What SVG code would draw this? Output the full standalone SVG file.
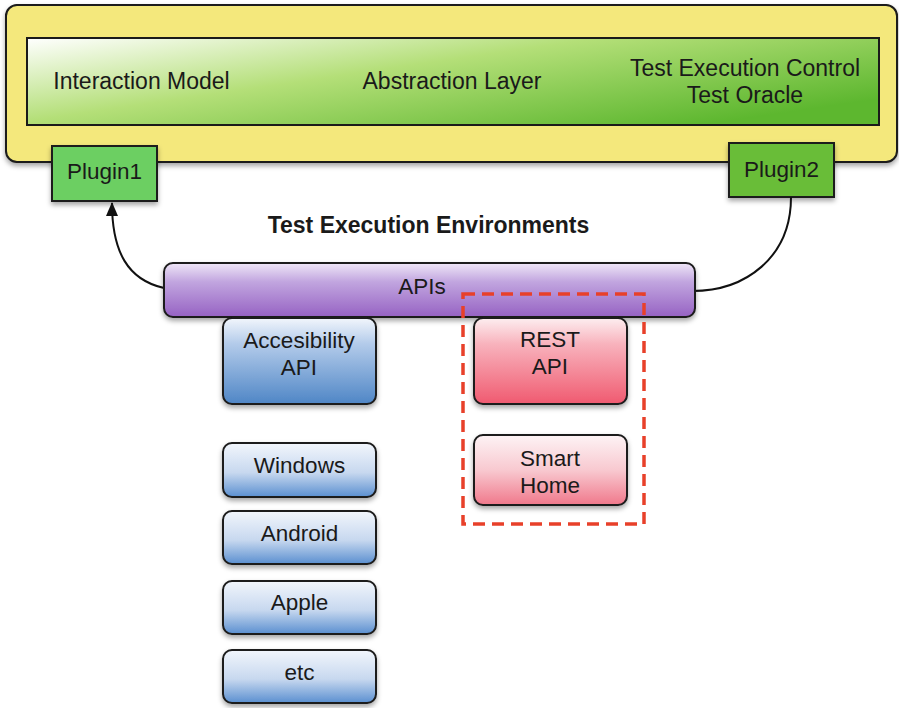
<svg xmlns="http://www.w3.org/2000/svg" width="899" height="708" viewBox="0 0 899 708">
<defs>
<filter id="sh" x="-10%" y="-10%" width="130%" height="140%">
<feDropShadow dx="0" dy="3" stdDeviation="2.5" flood-color="#000" flood-opacity="0.35"/>
</filter>
<linearGradient id="gInner" x1="0" y1="0" x2="1" y2="0.7">
<stop offset="0" stop-color="#ffffff"/>
<stop offset="0.45" stop-color="#b4df78"/>
<stop offset="1" stop-color="#5db72f"/>
</linearGradient>
<linearGradient id="gPurple" x1="0" y1="0" x2="0" y2="1">
<stop offset="0" stop-color="#efe6f7"/>
<stop offset="0.35" stop-color="#c1a5df"/>
<stop offset="1" stop-color="#9662c3"/>
</linearGradient>
<linearGradient id="gBlue" x1="0" y1="0" x2="0" y2="1">
<stop offset="0" stop-color="#f2f6fc"/>
<stop offset="0.3" stop-color="#b3cbea"/>
<stop offset="1" stop-color="#4f86c6"/>
</linearGradient>
<linearGradient id="gBlueS" x1="0" y1="0" x2="0" y2="1">
<stop offset="0" stop-color="#f2f6fc"/>
<stop offset="0.55" stop-color="#c7d8ef"/>
<stop offset="1" stop-color="#5a8fd0"/>
</linearGradient>
<linearGradient id="gRed" x1="0" y1="0" x2="0" y2="1">
<stop offset="0" stop-color="#fdeef0"/>
<stop offset="0.3" stop-color="#f8b3bd"/>
<stop offset="1" stop-color="#f05a70"/>
</linearGradient>
<linearGradient id="gRedS" x1="0" y1="0" x2="0" y2="1">
<stop offset="0" stop-color="#fdf3f5"/>
<stop offset="0.5" stop-color="#f8c9d0"/>
<stop offset="1" stop-color="#f0788b"/>
</linearGradient>
<marker id="arr" markerWidth="14" markerHeight="12" refX="13" refY="6" orient="auto" markerUnits="userSpaceOnUse">
<path d="M0,0 L14,6 L0,12 Z" fill="#111"/>
</marker>
</defs>
<style>
.box{stroke:#1a1a1a;stroke-width:2}
.t{font-family:"Liberation Sans",Arial,sans-serif;font-size:22.5px;fill:#1a1a1a;text-anchor:middle}
.L{font-size:23px}
.b{font-weight:bold;font-size:23px}
.c{fill:none;stroke:#111;stroke-width:2}
</style>

<g id="framework">
<rect class="box" x="6" y="5" width="891" height="157" rx="11" fill="#f4e87c" filter="url(#sh)"/>
<rect class="box" x="27" y="38" width="852" height="87" fill="url(#gInner)"/>
<text class="t L" x="141.5" y="89">Interaction Model</text>
<text class="t L" x="452" y="89">Abstraction Layer</text>
<text class="t L" x="745" y="76">Test Execution Control</text>
<text class="t L" x="745" y="103">Test Oracle</text>
</g>

<g id="plugin1">
<rect class="box" x="52" y="146" width="105" height="55" fill="#6ccf62" filter="url(#sh)"/>
<text class="t" x="104.5" y="179">Plugin1</text>
</g>

<g id="plugin2">
<rect class="box" x="729" y="143" width="105" height="54" fill="#69bd38" filter="url(#sh)"/>
<text class="t" x="781.5" y="177">Plugin2</text>
</g>

<g id="title">
<text class="t b" x="428.5" y="233">Test Execution Environments</text>
</g>

<g id="connectors">
<path class="c" d="M164,288 C128,280 112,252 112,203" marker-end="url(#arr)"/>
<path class="c" d="M791,197 C791,258 745,291 692,291"/>
</g>

<g id="apis">
<rect class="box" x="164" y="263" width="531" height="54" rx="9" fill="url(#gPurple)" filter="url(#sh)"/>
<text class="t" x="422" y="294">APIs</text>
</g>

<g id="accessibility">
<rect class="box" x="223" y="318" width="153" height="86" rx="9" fill="url(#gBlue)" filter="url(#sh)"/>
<text class="t" x="299" y="348">Accesibility</text>
<text class="t" x="299" y="375">API</text>
</g>

<g id="rest">
<rect class="box" x="474" y="318" width="153" height="86" rx="9" fill="url(#gRed)" filter="url(#sh)"/>
<text class="t" x="550" y="347">REST</text>
<text class="t" x="550" y="374">API</text>
</g>

<g id="smarthome">
<rect class="box" x="474" y="435" width="153" height="70" rx="9" fill="url(#gRedS)" filter="url(#sh)"/>
<text class="t" x="550" y="466">Smart</text>
<text class="t" x="550" y="493">Home</text>
</g>

<g id="highlight">
<rect x="463" y="294" width="181" height="230" fill="none" stroke="#e8402a" stroke-width="3.5" stroke-dasharray="12,7"/>
</g>

<g id="windows">
<rect class="box" x="223" y="443" width="153" height="54" rx="9" fill="url(#gBlueS)" filter="url(#sh)"/>
<text class="t" x="299.5" y="473">Windows</text>
</g>
<g id="android">
<rect class="box" x="223" y="511" width="153" height="53" rx="9" fill="url(#gBlueS)" filter="url(#sh)"/>
<text class="t" x="299.5" y="541">Android</text>
</g>
<g id="apple">
<rect class="box" x="223" y="581" width="153" height="53" rx="9" fill="url(#gBlueS)" filter="url(#sh)"/>
<text class="t" x="299.5" y="610">Apple</text>
</g>
<g id="etc">
<rect class="box" x="223" y="650" width="153" height="53" rx="9" fill="url(#gBlueS)" filter="url(#sh)"/>
<text class="t" x="299.5" y="680">etc</text>
</g>
</svg>
